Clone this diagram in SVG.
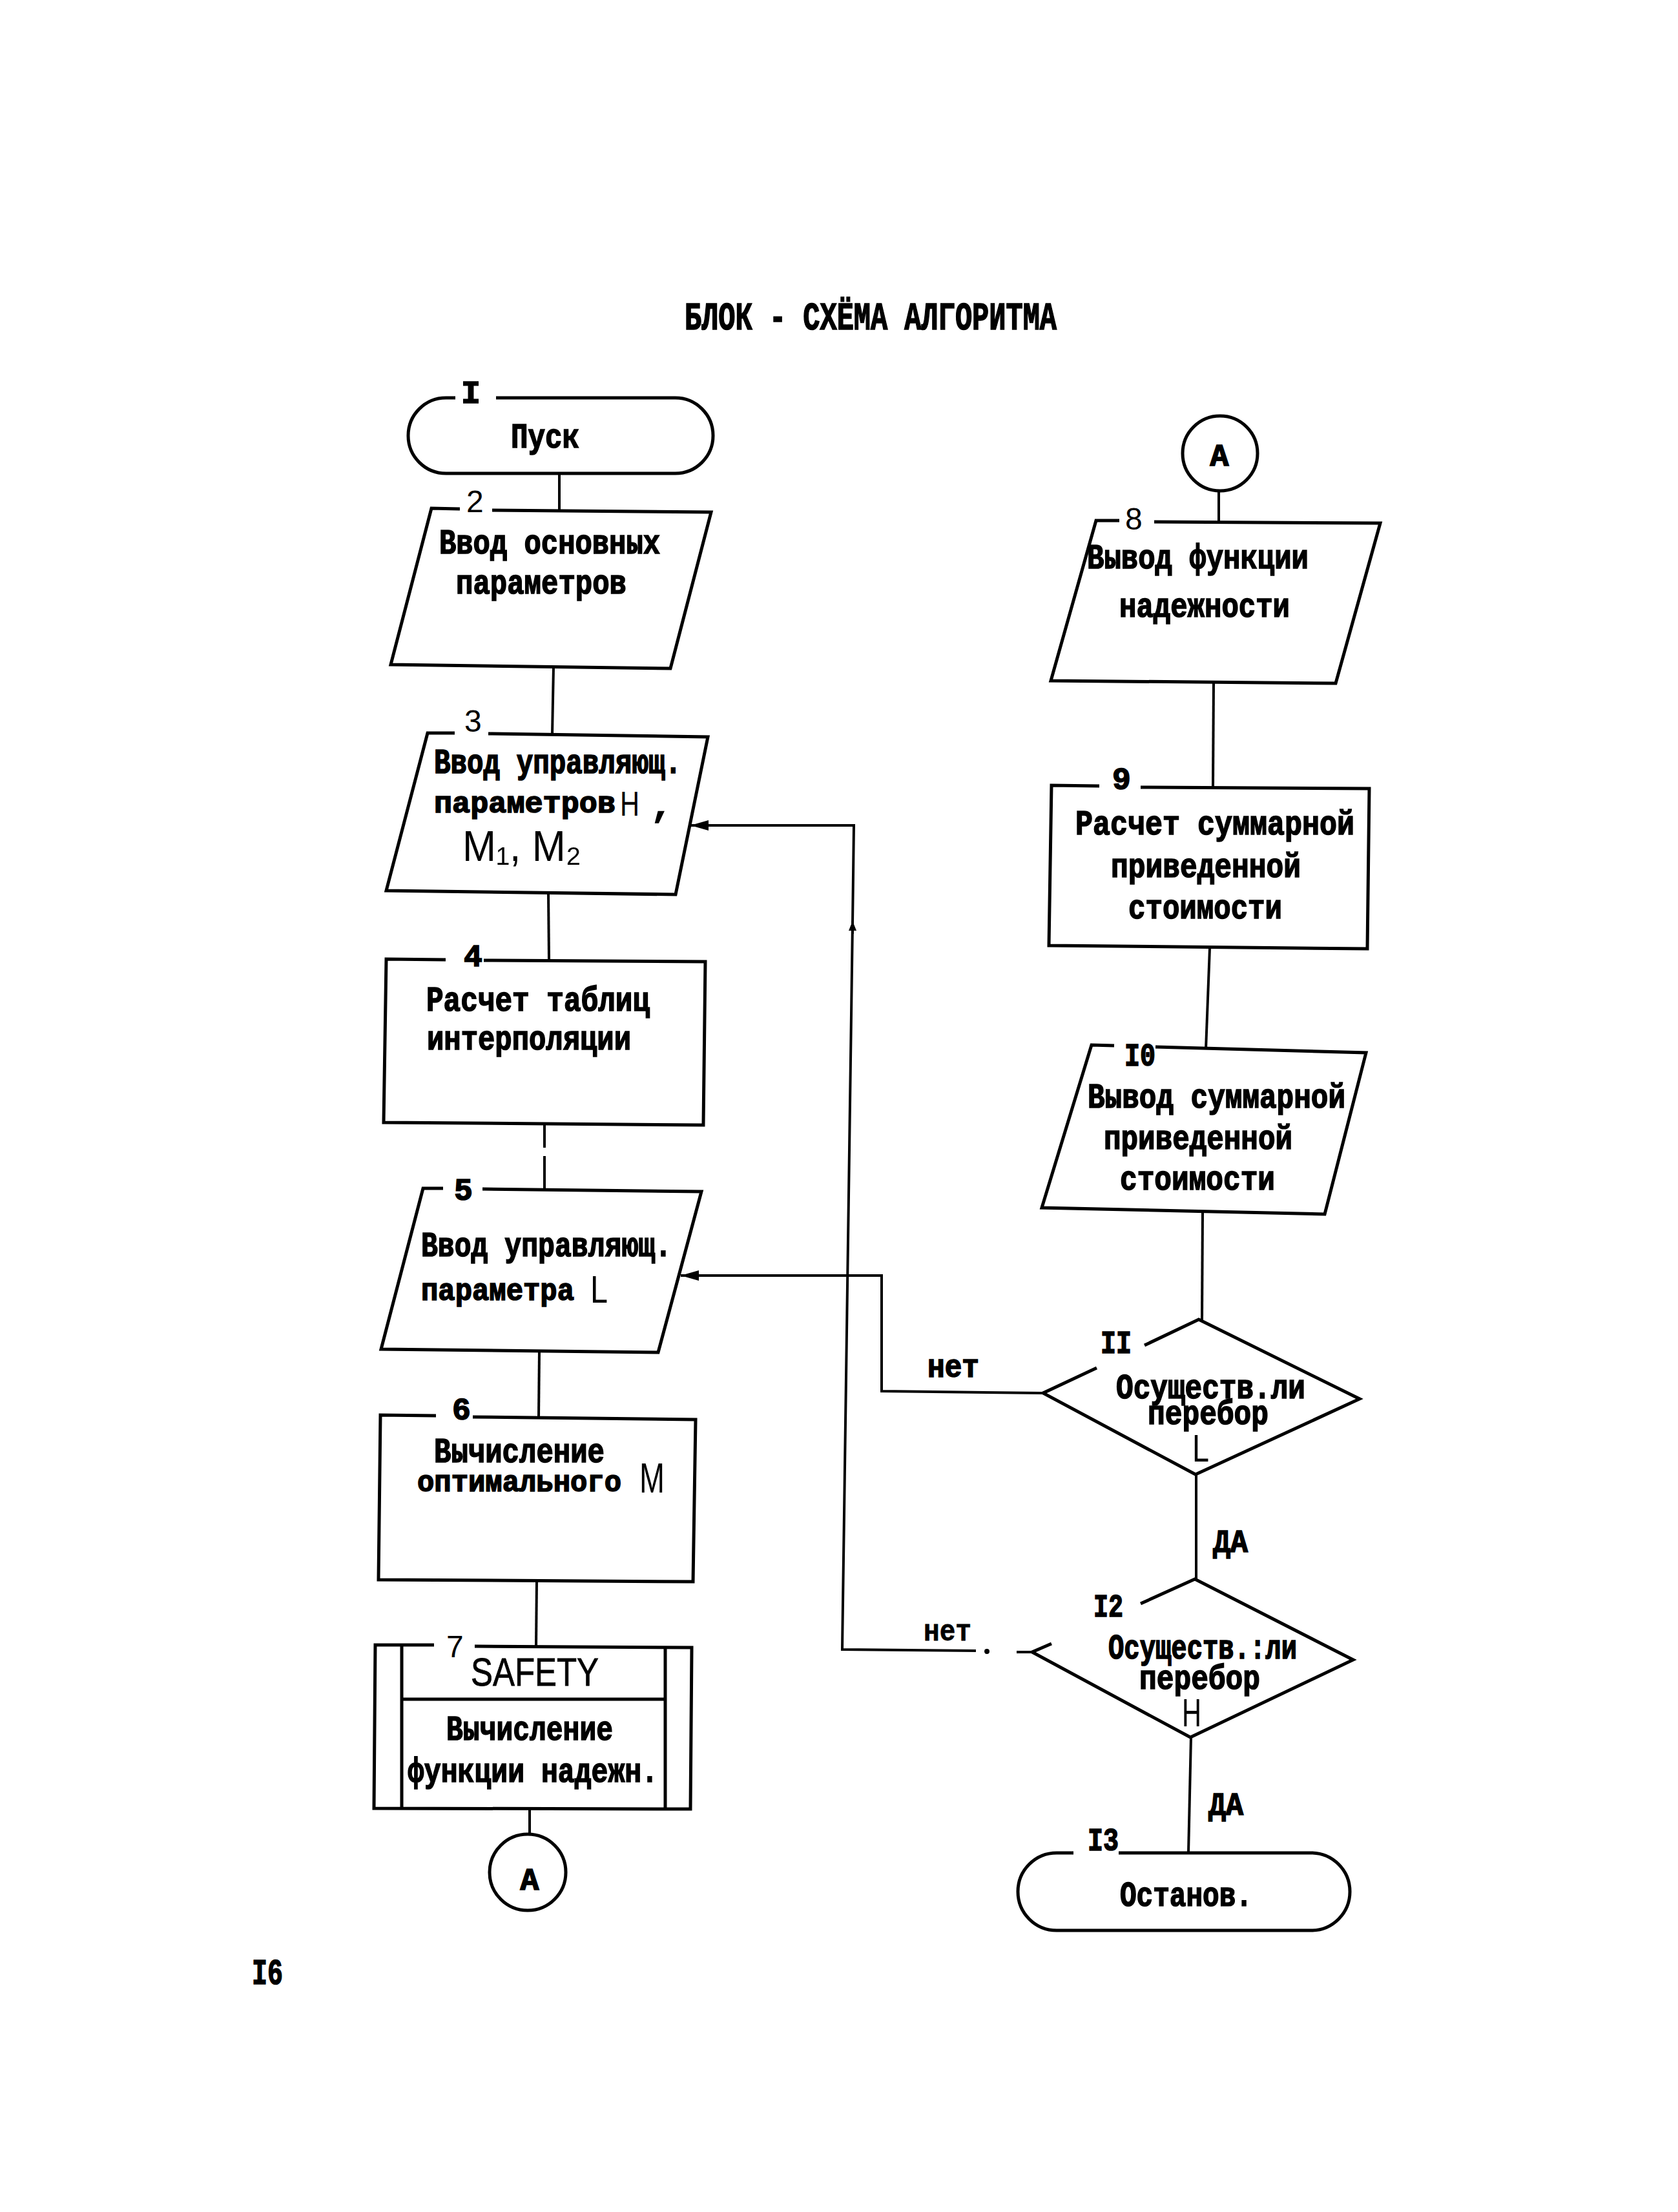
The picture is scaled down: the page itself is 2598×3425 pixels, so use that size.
<svg xmlns="http://www.w3.org/2000/svg" width="2598" height="3425" viewBox="0 0 2598 3425">
<style>
.s{fill:none;stroke:#000;stroke-width:5;stroke-linejoin:miter}
.c{fill:none;stroke:#000;stroke-width:4}
.tw{font-family:"Liberation Mono","Courier New",monospace;font-weight:bold;font-size:54px;fill:#000;stroke:#000;stroke-width:1.7}
.hl{font-family:"Liberation Sans",Arial,sans-serif;font-size:56px;fill:#000;stroke:none}
.lbl{font-size:48px}
</style>
<defs>
<marker id="ah" markerUnits="userSpaceOnUse" markerWidth="30" markerHeight="18" refX="28" refY="9" orient="auto"><path d="M0,1 L28,9 L0,17 z" fill="#000"/></marker>
<marker id="tick" markerUnits="userSpaceOnUse" markerWidth="16" markerHeight="14" refX="15" refY="7" orient="auto"><path d="M0,1 L15,7 L0,13 z" fill="#000"/></marker>
</defs>
<rect width="2598" height="3425" fill="#fff"/>
<text class="tw" x="1060" y="510" style="font-size:62px" textLength="576" lengthAdjust="spacingAndGlyphs">БЛОК - СХЁМА АЛГОРИТМА</text>

<g id="connectors">
<line class="c" x1="866" y1="733" x2="866" y2="789"/>
<line class="c" x1="857" y1="1033" x2="855" y2="1137"/>
<line class="c" x1="849" y1="1383" x2="850" y2="1487"/>
<line class="c" x1="843" y1="1740" x2="843" y2="1777"/>
<line class="c" x1="843" y1="1790" x2="843" y2="1842"/>
<line class="c" x1="835" y1="2091" x2="834" y2="2194"/>
<line class="c" x1="831" y1="2448" x2="830" y2="2549"/>
<line class="c" x1="820" y1="2801" x2="820" y2="2840"/>
<line class="c" x1="1887" y1="760" x2="1887" y2="808"/>
<line class="c" x1="1879" y1="1057" x2="1878" y2="1218"/>
<line class="c" x1="1873" y1="1468" x2="1867" y2="1625"/>
<line class="c" x1="1862" y1="1876" x2="1861" y2="2044"/>
<line class="c" x1="1852" y1="2282" x2="1852" y2="2446"/>
<line class="c" x1="1844" y1="2689" x2="1840" y2="2869"/>
<polyline class="c" points="1615,2157 1365,2154 1365,1975 1054,1975" marker-end="url(#ah)"/>
<polyline class="c" points="1598,2558 1574,2558"/>
<circle cx="1528" cy="2557" r="4" fill="#000"/>
<polyline class="c" points="1511,2556 1304,2554 1320,1430"/>
<line class="c" x1="1320" y1="1446" x2="1320" y2="1426" marker-end="url(#tick)"/>
<polyline class="c" points="1320,1430 1322,1278 1069,1278" marker-end="url(#ah)"/>
<text class="tw" x="1436" y="2132" style="font-size:50px" textLength="80" lengthAdjust="spacingAndGlyphs">нет</text>
<text class="tw" x="1430" y="2540" style="font-size:46px;stroke-width:0.8px" textLength="74" lengthAdjust="spacingAndGlyphs">нет</text>
<text class="tw" x="1878" y="2403" style="font-size:50px" textLength="54" lengthAdjust="spacingAndGlyphs">ДА</text>
<text class="tw" x="1871" y="2810" style="font-size:50px" textLength="54" lengthAdjust="spacingAndGlyphs">ДА</text>
</g>

<g id="node-1">
<path class="s" d="M768 616 H1045.5 A58.5 58.5 0 0 1 1045.5 733 H690.5 A58.5 58.5 0 0 1 690.5 616 H705"/>
<text class="tw" x="714" y="624" style="font-size:50px" textLength="30" lengthAdjust="spacingAndGlyphs">I</text>
<text class="tw" x="791" y="693" textLength="106" lengthAdjust="spacingAndGlyphs">Пуск</text>
</g>

<g id="node-2">
<path class="s" d="M762 790 L1101 793 L1038 1035 L605 1029 L668 787 L712 788"/>
<text class="hl lbl" x="722" y="793">2</text>
<text class="tw" x="680" y="857" textLength="342" lengthAdjust="spacingAndGlyphs">Ввод основных</text>
<text class="tw" x="706" y="919" textLength="264" lengthAdjust="spacingAndGlyphs">параметров</text>
</g>

<g id="node-3">
<path class="s" d="M756 1136 L1096 1141 L1046 1385 L598 1379 L662 1135 L704 1135"/>
<text class="hl lbl" x="719" y="1133">3</text>
<text class="tw" x="672" y="1197" textLength="383" lengthAdjust="spacingAndGlyphs">Ввод управляющ.</text>
<text class="tw" x="672" y="1258" style="font-size:47px" textLength="281" lengthAdjust="spacingAndGlyphs">параметров</text>
<text class="hl" x="960" y="1263" style="font-size:54px" textLength="30" lengthAdjust="spacingAndGlyphs">H</text>
<text class="tw" x="1008" y="1264">,</text>
<text class="hl" x="716" y="1333" style="font-size:66px" textLength="184" lengthAdjust="spacingAndGlyphs">M₁, M₂</text>
</g>

<g id="node-4">
<path class="s" d="M749 1487 L1092 1489 L1089 1742 L594 1738 L598 1485 L690 1486"/>
<text class="tw" x="718" y="1496" style="font-size:48px">4</text>
<text class="tw" x="660" y="1565" textLength="346" lengthAdjust="spacingAndGlyphs">Расчет таблиц</text>
<text class="tw" x="661" y="1625" textLength="316" lengthAdjust="spacingAndGlyphs">интерполяции</text>
</g>

<g id="node-5">
<path class="s" d="M747 1841 L1086 1845 L1019 2094 L590 2089 L655 1840 L686 1840"/>
<text class="tw" x="703" y="1858" style="font-size:48px">5</text>
<text class="tw" x="652" y="1945" textLength="388" lengthAdjust="spacingAndGlyphs">Ввод управляющ.</text>
<text class="tw" x="652" y="2013" style="font-size:48px" textLength="237" lengthAdjust="spacingAndGlyphs">параметра</text>
<text class="hl" x="914" y="2017" style="font-size:60px" textLength="27" lengthAdjust="spacingAndGlyphs">L</text>
</g>

<g id="node-6">
<path class="s" d="M732 2194 L1077 2198 L1073 2449 L586 2446 L589 2191 L675 2192"/>
<text class="tw" x="700" y="2198" style="font-size:48px">6</text>
<text class="tw" x="672" y="2264" textLength="264" lengthAdjust="spacingAndGlyphs">Вычисление</text>
<text class="tw" x="646" y="2309" style="font-size:47px" textLength="316" lengthAdjust="spacingAndGlyphs">оптимального</text>
<text class="hl" x="990" y="2311" style="font-size:64px" textLength="39" lengthAdjust="spacingAndGlyphs">M</text>
</g>

<g id="node-7">
<path class="s" d="M735 2549 L1071 2551 L1069 2801 L579 2800 L581 2547 L672 2547"/>
<line class="s" x1="622" y1="2549" x2="622" y2="2800"/>
<line class="s" x1="1030" y1="2551" x2="1030" y2="2801"/>
<line class="s" x1="622" y1="2631" x2="1030" y2="2631"/>
<text class="hl lbl" x="691" y="2566">7</text>
<text class="hl" x="729" y="2610" style="font-size:62px;stroke:#000;stroke-width:0.8px" textLength="198" lengthAdjust="spacingAndGlyphs">SAFETY</text>
<text class="tw" x="691" y="2694" textLength="258" lengthAdjust="spacingAndGlyphs">Вычисление</text>
<text class="tw" x="631" y="2759" textLength="388" lengthAdjust="spacingAndGlyphs">функции надежн.</text>
</g>

<g id="connector-A-out">
<circle class="s" cx="817" cy="2899" r="59"/>
<text class="tw" x="820" y="2926" style="font-size:48px" text-anchor="middle">А</text>
</g>

<g id="connector-A-in">
<circle class="s" cx="1889" cy="702" r="58"/>
<text class="tw" x="1888" y="721" style="font-size:48px" text-anchor="middle">А</text>
</g>

<g id="node-8">
<path class="s" d="M1787 808 L2137 810 L2068 1058 L1627 1054 L1697 806 L1733 806"/>
<text class="hl lbl" x="1742" y="820">8</text>
<text class="tw" x="1683" y="880" textLength="343" lengthAdjust="spacingAndGlyphs">Вывод функции</text>
<text class="tw" x="1733" y="955" textLength="264" lengthAdjust="spacingAndGlyphs">надежности</text>
</g>

<g id="node-9">
<path class="s" d="M1766 1219 L2120 1221 L2117 1469 L1624 1464 L1628 1216 L1702 1217"/>
<text class="tw" x="1722" y="1222" style="font-size:48px">9</text>
<text class="tw" x="1665" y="1292" textLength="432" lengthAdjust="spacingAndGlyphs">Расчет суммарной</text>
<text class="tw" x="1720" y="1358" textLength="294" lengthAdjust="spacingAndGlyphs">приведенной</text>
<text class="tw" x="1747" y="1422" textLength="238" lengthAdjust="spacingAndGlyphs">стоимости</text>
</g>

<g id="node-10">
<path class="s" d="M1789 1621 L2115 1630 L2051 1880 L1613 1870 L1690 1618 L1725 1619"/>
<text class="tw" x="1741" y="1650" style="font-size:50px" textLength="48" lengthAdjust="spacingAndGlyphs">I0</text>
<text class="tw" x="1684" y="1715" textLength="399" lengthAdjust="spacingAndGlyphs">Вывод суммарной</text>
<text class="tw" x="1709" y="1779" textLength="292" lengthAdjust="spacingAndGlyphs">приведенной</text>
<text class="tw" x="1734" y="1842" textLength="240" lengthAdjust="spacingAndGlyphs">стоимости</text>
</g>

<g id="node-11">
<path class="s" d="M1772 2083 L1856 2043 L2105 2166 L1851 2283 L1615 2157 L1698 2118"/>
<text class="tw" x="1704" y="2095" style="font-size:50px" textLength="48" lengthAdjust="spacingAndGlyphs">II</text>
<text class="tw" x="1728" y="2165" textLength="293" lengthAdjust="spacingAndGlyphs">Осуществ.ли</text>
<text class="tw" x="1777" y="2205" textLength="187" lengthAdjust="spacingAndGlyphs">перебор</text>
<text class="hl" x="1846" y="2263" style="font-size:60px" textLength="26" lengthAdjust="spacingAndGlyphs">L</text>
</g>

<g id="node-12">
<path class="s" d="M1766 2483 L1850 2445 L2095 2570 L1843 2690 L1598 2558 L1628 2545"/>
<text class="tw" x="1693" y="2503" style="font-size:50px" textLength="46" lengthAdjust="spacingAndGlyphs">I2</text>
<text class="tw" x="1716" y="2568" textLength="292" lengthAdjust="spacingAndGlyphs">Осуществ.:ли</text>
<text class="tw" x="1764" y="2615" textLength="187" lengthAdjust="spacingAndGlyphs">перебор</text>
<text class="hl" x="1830" y="2673" style="font-size:62px" textLength="30" lengthAdjust="spacingAndGlyphs">H</text>
</g>

<g id="node-13">
<path class="s" d="M1732 2869 H2030 A60 60 0 0 1 2030 2989 H1636 A60 60 0 0 1 1636 2869 H1662"/>
<text class="tw" x="1684" y="2865" style="font-size:50px" textLength="48" lengthAdjust="spacingAndGlyphs">I3</text>
<text class="tw" x="1734" y="2951" textLength="205" lengthAdjust="spacingAndGlyphs">Останов.</text>
</g>

<text class="tw" x="390" y="3072" style="font-size:56px" textLength="48" lengthAdjust="spacingAndGlyphs">I6</text>
</svg>
